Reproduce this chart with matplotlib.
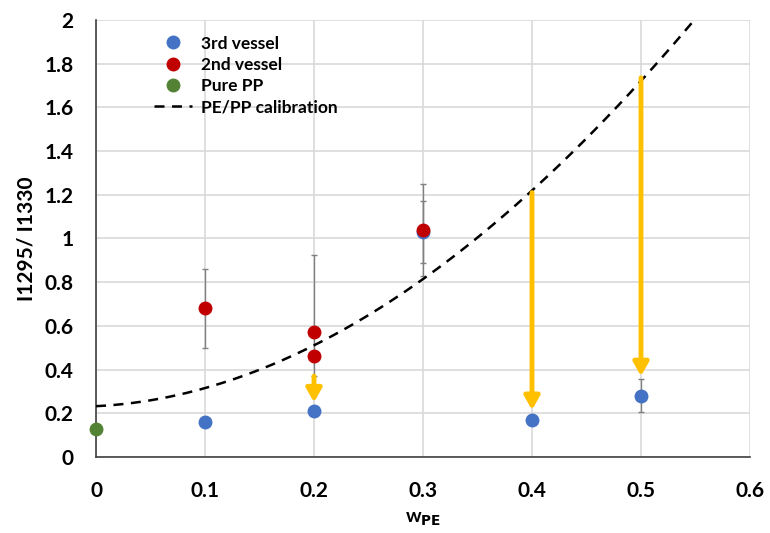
import matplotlib.pyplot as plt
import numpy as np

plt.rcParams['font.family'] = ['Lato', 'DejaVu Sans']

# data
pp_x = [0.0]
pp_y = [0.13]

v3_x = [0.1, 0.2, 0.3, 0.4, 0.5]
v3_y = [0.16, 0.21, 1.03, 0.17, 0.28]
v3_err = [0.0, 0.0, 0.14, 0.0, 0.075]

v2_x = [0.1, 0.2, 0.2, 0.3]
v2_y = [0.68, 0.57, 0.46, 1.04]
v2_lo = [0.18, 0.20, 0.0, 0.21]
v2_hi = [0.18, 0.355, 0.0, 0.21]

cal_x = [0.0, 0.05, 0.1, 0.15, 0.2, 0.25, 0.3, 0.35, 0.4, 0.45, 0.5, 0.55]
cal_y = [0.23, 0.26, 0.32, 0.40, 0.51, 0.65, 0.81, 1.00, 1.22, 1.46, 1.73, 2.00]

arrow_x = [0.2, 0.4, 0.5]
arrow_start = [0.37, 1.21, 1.735]
arrow_end = [0.25, 0.215, 0.37]

xticks = [0, 0.1, 0.2, 0.3, 0.4, 0.5, 0.6]
xlabels = ['0', '0.1', '0.2', '0.3', '0.4', '0.5', '0.6']
yticks = [0, 0.2, 0.4, 0.6, 0.8, 1.0, 1.2, 1.4, 1.6, 1.8, 2.0]
ylabels = ['0', '0.2', '0.4', '0.6', '0.8', '1', '1.2', '1.4', '1.6', '1.8', '2']

blue = '#4472C4'
red = '#C00000'
green = '#548235'
gold = '#FFC000'

fig = plt.figure(figsize=(7.7, 5.33), dpi=100)
ax = fig.add_axes([0.1247, 0.1426, 0.8493, 0.82])

ax.grid(True, color='#d9d9d9', linewidth=1.2, zorder=0)
ax.set_axisbelow(True)

# smooth the read calibration points
coef = np.polyfit(cal_x, cal_y, 3)
xs = np.linspace(cal_x[0], cal_x[-1], 200)
ys = np.polyval(coef, xs)

# error bars
ax.errorbar(v2_x, v2_y, yerr=[v2_lo, v2_hi], fmt='none', ecolor='#808080',
            elinewidth=1.0, capsize=2.5, capthick=1.0, zorder=2)
ax.errorbar(v3_x, v3_y, yerr=v3_err, fmt='none', ecolor='#808080',
            elinewidth=1.0, capsize=2.5, capthick=1.0, zorder=2)

# arrows
for x, y0, y1 in zip(arrow_x, arrow_start, arrow_end):
    ax.annotate('', xy=(x, y1), xytext=(x, y0),
                arrowprops=dict(arrowstyle='-|>,head_length=0.8,head_width=0.45',
                                color=gold, lw=3.5, shrinkA=0, shrinkB=0),
                zorder=4)

ax.plot(v3_x, v3_y, 'o', color=blue, markersize=9, label='3rd vessel', zorder=5)
ax.plot(v2_x, v2_y, 'o', color=red, markersize=9, label='2nd vessel', zorder=6)
ax.plot(pp_x, pp_y, 'o', color=green, markersize=9, label='Pure PP',
        zorder=6, clip_on=False)
ax.plot(xs, ys, color='black', linestyle=(0, (4, 3)), linewidth=1.8,
        label='PE/PP calibration', zorder=3)

ax.set_xlim(0, 0.6)
ax.set_ylim(0, 2)
ax.set_xticks(xticks)
ax.set_xticklabels(xlabels)
ax.set_yticks(yticks)
ax.set_yticklabels(ylabels)
ax.tick_params(axis='y', length=0, labelsize=15, pad=16)
ax.tick_params(axis='x', length=0, labelsize=15, pad=17)
for lab in ax.get_xticklabels() + ax.get_yticklabels():
    lab.set_fontweight('bold')

for side in ['top', 'right']:
    ax.spines[side].set_visible(False)
for side in ['left', 'bottom']:
    ax.spines[side].set_color('#404040')
    ax.spines[side].set_linewidth(1.2)

ax.set_xlabel(r'w$_{\mathbf{PE}}$', fontsize=14, fontweight='bold', labelpad=7)
ax.set_ylabel('I1295/ I1330', fontsize=15, fontweight='bold', labelpad=6)

ax.legend(loc='upper left', bbox_to_anchor=(0.065, 1.0), frameon=False,
          prop={'weight': 'bold', 'size': 12.5},
          handlelength=2.2, handletextpad=0.5, labelspacing=0.3)

fig.savefig('out.png', dpi=100)
